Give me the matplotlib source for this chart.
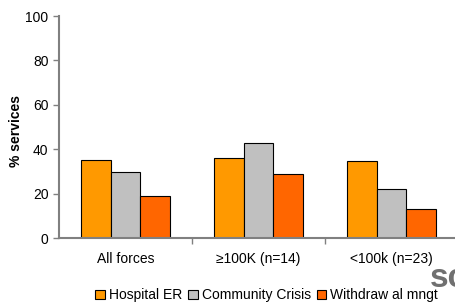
import numpy as np
import matplotlib.pyplot as plt

plt.rcParams['font.family'] = ['Liberation Sans', 'DejaVu Sans']

categories = ["All forces", "\u2265100K (n=14)", "<100k (n=23)"]
series_names = ["Hospital ER", "Community Crisis", "Withdraw al mngt"]
hospital_er = [35.1, 35.9, 34.7]
community_crisis = [29.9, 42.9, 22.0]
withdrawal_mngt = [19.0, 28.8, 13.2]
colors = ["#FF9900", "#C0C0C0", "#FF6600"]

fig = plt.figure(figsize=(4.56, 3.04), dpi=100)
ax = fig.add_axes([0.129, 0.217, 0.875, 0.730])

x = np.arange(len(categories))
w = 0.222
for i, (vals, name) in enumerate(zip([hospital_er, community_crisis, withdrawal_mngt], series_names)):
    ax.bar(x + (i - 1) * w, vals, w, color=colors[i], edgecolor="black",
           linewidth=0.8, label=name)

ax.set_xlim(-0.5, 2.5)
ax.set_ylim(0, 100)
ax.set_yticks(range(0, 101, 20))
ax.set_xticks(x)
ax.set_xticklabels(categories, fontsize=10)
ax.set_xticks([0.5, 1.5, 2.5], minor=True)
ax.tick_params(axis="x", which="major", length=0, pad=10)
ax.tick_params(axis="x", which="minor", length=4, color="#808080", width=1)
ax.tick_params(axis="y", length=4, color="#808080", width=1, labelsize=10)

for s in ["top", "right"]:
    ax.spines[s].set_visible(False)
for s in ["left", "bottom"]:
    ax.spines[s].set_color("#808080")
    ax.spines[s].set_linewidth(1.5)

fig.text(0.035, 0.57, "% services", fontsize=10, fontweight="bold",
         rotation=90, ha="center", va="center")

fig.legend(loc="center", bbox_to_anchor=(0.585, 0.028), ncol=3, frameon=False,
           fontsize=10, handlelength=0.7, handleheight=0.7, handletextpad=0.3,
           columnspacing=0.4)

# clipped watermark at bottom-right, as in the source slide
fig.text(0.942, 0.085, "sc", fontsize=24, fontweight="bold", color="#707070",
         ha="left", va="center")

fig.savefig("out.png", dpi=100)
